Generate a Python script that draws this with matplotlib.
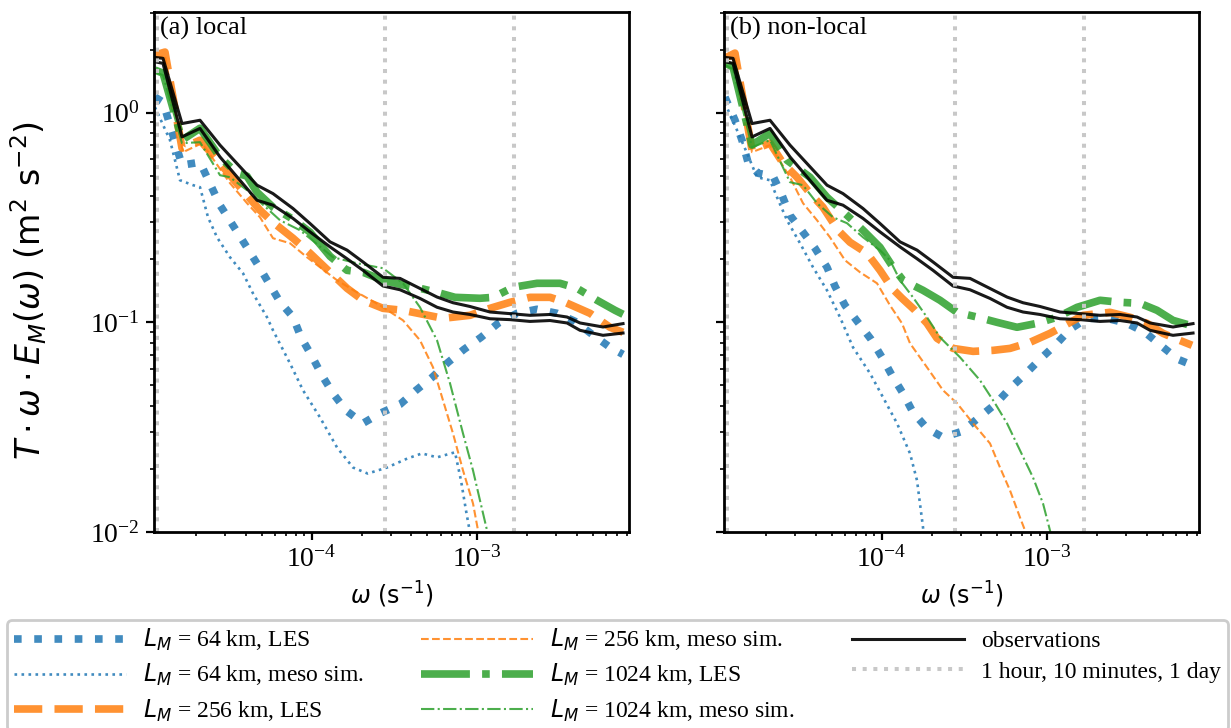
import matplotlib
matplotlib.use('Agg')
import matplotlib.pyplot as plt

plt.rcParams['font.family'] = 'serif'
plt.rcParams['font.serif'] = ['Liberation Serif', 'DejaVu Serif']
plt.rcParams['mathtext.fontset'] = 'dejavusans'

# ---------------- data (frequency in s^-1, value in m^2 s^-2) ----------------
obs_f = [1.131e-5, 1.265e-5, 1.647e-5, 2.116e-5, 2.794e-5, 4.673e-5, 5.838e-5, 7.711e-5,
         9.766e-5, 1.290e-4, 1.634e-4, 2.041e-4, 2.696e-4, 3.413e-4, 4.508e-4, 5.710e-4,
         7.132e-4, 9.031e-4, 1.193e-3, 1.576e-3, 2.081e-3, 2.748e-3, 3.480e-3, 4.170e-3,
         5.741e-3, 7.584e-3]
obs_upper = [1.835, 1.815, 0.887, 0.920, 0.700, 0.451, 0.411, 0.349, 0.296, 0.242, 0.221,
             0.194, 0.164, 0.162, 0.145, 0.132, 0.124, 0.119, 0.112, 0.110, 0.108, 0.109,
             0.106, 0.0993, 0.0950, 0.0986]
obs_lower = [1.748, 1.718, 0.766, 0.841, 0.615, 0.382, 0.362, 0.313, 0.270, 0.229, 0.201,
             0.177, 0.149, 0.143, 0.130, 0.118, 0.112, 0.109, 0.104, 0.103, 0.101, 0.102,
             0.0993, 0.0916, 0.0867, 0.0889]

# panel (a) local
a_les64_f = [1.131e-5, 1.265e-5, 1.647e-5, 2.116e-5, 2.794e-5, 3.690e-5, 4.872e-5, 6.435e-5,
             7.711e-5, 8.620e-5, 1.004e-4, 1.154e-4, 1.345e-4, 1.611e-4, 2.041e-4, 2.585e-4,
             3.413e-4, 4.265e-4, 5.327e-4, 6.653e-4, 8.311e-4, 1.053e-3, 1.334e-3, 1.737e-3,
             2.294e-3, 3.029e-3, 3.890e-3, 4.927e-3, 6.328e-3, 7.584e-3]
a_les64_v = [1.186, 1.122, 0.562, 0.580, 0.362, 0.257, 0.181, 0.125, 0.106, 0.0848, 0.0688,
             0.0558, 0.0458, 0.0380, 0.0330, 0.0368, 0.0406, 0.0474, 0.0546, 0.0644, 0.0743,
             0.0848, 0.0989, 0.1104, 0.1154, 0.1104, 0.1011, 0.0877, 0.0760, 0.0703]
a_meso64_f = [1.131e-5, 1.394e-5, 1.602e-5, 1.920e-5, 2.116e-5, 2.365e-5, 2.680e-5, 3.211e-5,
              3.847e-5, 4.418e-5, 5.371e-5, 5.838e-5, 7.396e-5, 8.862e-5, 1.122e-4, 1.422e-4,
              1.776e-4, 2.179e-4, 2.850e-4, 3.773e-4, 4.634e-4, 5.710e-4, 7.333e-4, 7.972e-4,
              8.543e-4, 9.031e-4, 9.552e-4]
a_meso64_v = [1.062, 0.739, 0.476, 0.451, 0.441, 0.317, 0.2544, 0.2043, 0.1714, 0.1375, 0.1057,
              0.0916, 0.0637, 0.0474, 0.0352, 0.0253, 0.0203, 0.0190, 0.0203, 0.0224, 0.0237,
              0.0227, 0.0240, 0.0176, 0.01267, 0.00994, 0.00731]
a_les256_f = [1.131e-5, 1.300e-5, 1.647e-5, 2.116e-5, 2.794e-5, 3.690e-5, 4.872e-5, 5.838e-5,
              7.711e-5, 9.766e-5, 1.290e-4, 1.634e-4, 2.041e-4, 2.696e-4, 3.559e-4, 4.700e-4,
              6.208e-4, 9.031e-4, 1.193e-3, 1.576e-3, 2.081e-3, 2.748e-3, 3.385e-3, 4.792e-3,
              6.328e-3, 7.584e-3]
a_les256_v = [1.882, 1.945, 0.677, 0.739, 0.574, 0.441, 0.3425, 0.300, 0.2518, 0.2135, 0.1733,
              0.1453, 0.1274, 0.1166, 0.1141, 0.1092, 0.1045, 0.1080, 0.1166, 0.1246, 0.1316,
              0.1316, 0.1246, 0.1104, 0.0947, 0.0896]
a_meso256_f = [1.131e-5, 1.300e-5, 1.670e-5, 2.176e-5, 3.211e-5, 4.067e-5, 4.872e-5, 5.838e-5,
               7.396e-5, 9.368e-5, 1.422e-4, 1.877e-4, 2.585e-4, 3.559e-4, 4.508e-4, 5.402e-4,
               6.208e-4, 7.132e-4, 8.196e-4, 9.419e-4, 1.010e-3, 1.068e-3]
a_meso256_v = [1.820, 1.861, 0.648, 0.715, 0.461, 0.370, 0.317, 0.2518, 0.2383, 0.2043, 0.1587,
               0.139, 0.1205, 0.1022, 0.0821, 0.0610, 0.0424, 0.0295, 0.01966, 0.01368,
               0.01017, 0.00731]
a_les1024_f = [1.131e-5, 1.265e-5, 1.647e-5, 2.116e-5, 2.794e-5, 3.539e-5, 4.067e-5, 4.673e-5,
               5.838e-5, 7.711e-5, 9.766e-5, 1.290e-4, 1.634e-4, 2.041e-4, 2.696e-4, 3.413e-4,
               4.508e-4, 5.710e-4, 7.333e-4, 1.038e-3, 1.244e-3, 1.643e-3, 2.294e-3, 3.158e-3,
               3.999e-3, 5.282e-3, 6.784e-3, 7.584e-3]
a_les1024_v = [1.596, 1.543, 0.739, 0.843, 0.613, 0.514, 0.498, 0.4174, 0.354, 0.310, 0.269,
               0.2065, 0.177, 0.1733, 0.1587, 0.1518, 0.1453, 0.139, 0.1316, 0.1302, 0.1316,
               0.1469, 0.1535, 0.1535, 0.1453, 0.1274, 0.1141, 0.1092]
a_meso1024_f = [1.131e-5, 1.265e-5, 1.647e-5, 2.116e-5, 2.794e-5, 3.211e-5, 4.067e-5, 6.435e-5,
                8.500e-5, 1.345e-4, 1.877e-4, 2.696e-4, 3.559e-4, 4.508e-4, 5.710e-4, 6.840e-4,
                8.196e-4, 9.419e-4, 1.038e-3, 1.145e-3, 1.227e-3]
a_meso1024_v = [1.561, 1.510, 0.715, 0.723, 0.503, 0.492, 0.4267, 0.3068, 0.2748, 0.2043, 0.1912,
                0.1811, 0.1535, 0.1179, 0.0821, 0.0512, 0.0295, 0.01966, 0.01414, 0.01017,
                0.00731]

# panel (b) non-local
b_les64_f = [1.131e-5, 1.300e-5, 1.433e-5, 1.558e-5, 1.791e-5, 2.206e-5, 2.500e-5, 2.794e-5,
             3.347e-5, 3.956e-5, 4.673e-5, 5.224e-5, 6.003e-5, 7.193e-5, 8.620e-5, 1.004e-4,
             1.154e-4, 1.345e-4, 1.545e-4, 1.877e-4, 2.346e-4, 3.054e-4, 3.869e-4, 4.832e-4,
             5.954e-4, 7.333e-4, 9.031e-4, 1.129e-3, 1.371e-3, 1.737e-3, 2.294e-3, 3.029e-3,
             3.890e-3, 4.927e-3, 6.154e-3, 7.584e-3]
b_les64_v = [1.186, 0.921, 0.739, 0.580, 0.514, 0.498, 0.404, 0.324, 0.269, 0.2255, 0.1831,
             0.1485, 0.1205, 0.100, 0.0830, 0.0681, 0.0558, 0.0458, 0.0372, 0.0312, 0.02826,
             0.0302, 0.0352, 0.0406, 0.0484, 0.0565, 0.0666, 0.0785, 0.0926, 0.1045, 0.1045,
             0.0989, 0.0896, 0.0768, 0.0666, 0.0623]
b_meso64_f = [1.131e-5, 1.337e-5, 1.537e-5, 1.766e-5, 2.116e-5, 2.332e-5, 2.680e-5, 3.211e-5,
              3.847e-5, 4.673e-5, 5.600e-5, 6.709e-5, 8.500e-5, 1.018e-4, 1.237e-4, 1.482e-4,
              1.634e-4, 1.776e-4, 1.851e-4]
b_meso64_v = [1.110, 0.825, 0.641, 0.492, 0.476, 0.395, 0.3068, 0.2383, 0.1831, 0.1421, 0.1057,
              0.0760, 0.0571, 0.0439, 0.0330, 0.0237, 0.0176, 0.01051, 0.00731]
b_les256_f = [1.131e-5, 1.300e-5, 1.647e-5, 2.116e-5, 2.535e-5, 3.080e-5, 3.690e-5, 4.418e-5,
              5.446e-5, 6.435e-5, 8.154e-5, 9.766e-5, 1.154e-4, 1.326e-4, 1.589e-4, 1.877e-4,
              2.158e-4, 2.696e-4, 3.559e-4, 4.700e-4, 5.954e-4, 7.862e-4, 1.038e-3, 1.244e-3,
              1.643e-3, 2.391e-3, 3.158e-3, 3.999e-3, 4.996e-3, 6.069e-3, 7.479e-3]
b_les256_v = [1.820, 1.923, 0.662, 0.715, 0.574, 0.492, 0.4129, 0.354, 0.2748, 0.2409, 0.2135,
              0.177, 0.1453, 0.1302, 0.1141, 0.0989, 0.0839, 0.0751, 0.0727, 0.0735, 0.0751,
              0.0803, 0.0886, 0.0957, 0.1080, 0.1116, 0.1057, 0.0989, 0.0886, 0.0830, 0.0777]
b_meso256_f = [1.131e-5, 1.300e-5, 1.647e-5, 2.116e-5, 2.794e-5, 3.347e-5, 4.067e-5, 4.872e-5,
               6.003e-5, 7.396e-5, 9.368e-5, 1.122e-4, 1.326e-4, 1.482e-4, 1.877e-4, 2.346e-4,
               2.850e-4, 3.559e-4, 4.508e-4, 5.181e-4, 5.954e-4, 6.840e-4, 7.333e-4, 7.862e-4]
b_meso256_v = [1.781, 1.840, 0.648, 0.700, 0.492, 0.370, 0.3068, 0.2544, 0.1977, 0.1733, 0.1535,
               0.1205, 0.0989, 0.0794, 0.0610, 0.0474, 0.0411, 0.0330, 0.02645, 0.0203,
               0.01578, 0.01173, 0.01017, 0.00772]
b_les1024_f = [1.131e-5, 1.265e-5, 1.647e-5, 2.116e-5, 2.680e-5, 3.690e-5, 4.673e-5, 6.172e-5,
               7.711e-5, 9.766e-5, 1.170e-4, 1.345e-4, 1.776e-4, 2.249e-4, 2.850e-4, 3.815e-4,
               4.969e-4, 6.561e-4, 8.663e-4, 1.145e-3, 1.512e-3, 2.081e-3, 2.748e-3, 3.629e-3,
               4.597e-3, 5.741e-3, 7.273e-3]
b_les1024_v = [1.723, 1.649, 0.700, 0.798, 0.593, 0.492, 0.395, 0.324, 0.2748, 0.228, 0.1831,
               0.1587, 0.1421, 0.1274, 0.1116, 0.1057, 0.100, 0.0947, 0.0989, 0.1057, 0.1179,
               0.1274, 0.1246, 0.1232, 0.1141, 0.1022, 0.0968]
b_meso1024_f = [1.131e-5, 1.265e-5, 1.647e-5, 2.116e-5, 2.794e-5, 3.347e-5, 4.067e-5, 5.080e-5,
                6.172e-5, 7.711e-5, 9.766e-5, 1.122e-4, 1.290e-4, 1.545e-4, 1.877e-4, 2.249e-4,
                2.971e-4, 3.923e-4, 4.832e-4, 5.710e-4, 6.840e-4, 8.196e-4, 9.419e-4, 1.038e-3,
                1.113e-3]
b_meso1024_v = [1.686, 1.613, 0.684, 0.739, 0.466, 0.451, 0.370, 0.317, 0.297, 0.2544, 0.2207,
                0.1977, 0.1587, 0.1316, 0.1057, 0.0848, 0.0681, 0.0529, 0.0411, 0.0330, 0.0245,
                0.0182, 0.01368, 0.01017, 0.00772]

period_f = [1.157e-5, 2.778e-4, 1.667e-3]   # 1 day, 1 hour, 10 minutes

labels = [r'$L_M$ = 64 km, LES', r'$L_M$ = 64 km, meso sim.',
          r'$L_M$ = 256 km, LES', r'$L_M$ = 256 km, meso sim.',
          r'$L_M$ = 1024 km, LES', r'$L_M$ = 1024 km, meso sim.',
          'observations', '1 hour, 10 minutes, 1 day']
panel_titles = ['(a) local', '(b) non-local']

# ---------------- styles ----------------
thick = 5.5
styles = [dict(color='tab:blue', ls=':', lw=thick, alpha=0.85),
          dict(color='tab:blue', ls=':', lw=1.9, alpha=0.85),
          dict(color='tab:orange', ls='--', lw=thick, alpha=0.85),
          dict(color='tab:orange', ls='--', lw=1.5, alpha=0.85),
          dict(color='tab:green', ls='-.', lw=thick, alpha=0.85),
          dict(color='tab:green', ls='-.', lw=1.5, alpha=0.85)]

panels = [
    [(a_les64_f, a_les64_v), (a_meso64_f, a_meso64_v), (a_les256_f, a_les256_v),
     (a_meso256_f, a_meso256_v), (a_les1024_f, a_les1024_v), (a_meso1024_f, a_meso1024_v)],
    [(b_les64_f, b_les64_v), (b_meso64_f, b_meso64_v), (b_les256_f, b_les256_v),
     (b_meso256_f, b_meso256_v), (b_les1024_f, b_les1024_v), (b_meso1024_f, b_meso1024_v)],
]

W, H = 1231, 728
fig = plt.figure(figsize=(W / 100, H / 100), dpi=100)
ax_a = fig.add_axes([154 / W, 1 - 532 / H, 475 / W, 520 / H])
ax_b = fig.add_axes([724 / W, 1 - 532 / H, 475 / W, 520 / H], sharey=ax_a)
axes = [ax_a, ax_b]

handles = []
for k, ax in enumerate(axes):
    for (f, v), st, lab in zip(panels[k], styles, labels[:6]):
        ln, = ax.plot(f, v, label=lab, **st)
        if k == 0:
            handles.append(ln)
    l1, = ax.plot(obs_f, obs_upper, color='black', lw=2.2, alpha=0.9)
    ax.plot(obs_f, obs_lower, color='black', lw=2.2, alpha=0.9)
    for pf in period_f:
        vl = ax.axvline(pf, color='#c8c8c8', ls=':', lw=2.9)
    if k == 0:
        handles.append(l1)
        handles.append(vl)
    ax.set_xscale('log')
    ax.set_yscale('log')
    ax.set_xlim(1.116e-5, 8.24e-3)
    ax.set_ylim(1e-2, 3.02)
    for sp in ax.spines.values():
        sp.set_linewidth(2.0)
    ax.tick_params(which='major', length=6, width=1.6, labelsize=20, pad=4)
    ax.tick_params(which='minor', length=3.2, width=1.2)
    ax.set_xlabel(r'$\omega\ (\mathrm{s}^{-1})$', fontsize=17, labelpad=5)
    ax.text(0.012, 0.99, panel_titles[k], transform=ax.transAxes, ha='left', va='top',
            fontsize=19)

ylab = ax_a.set_ylabel(r'$T \cdot \omega \cdot E_M(\omega)\ (\mathrm{m}^2\ \mathrm{s}^{-2})$',
                       fontsize=19)
ax_a.yaxis.set_label_coords(-0.222, 0.465)
ax_b.tick_params(labelleft=False)

# fit the y-label to the span it covers in the reference (about 340 px tall)
fig.canvas.draw()
bb = ylab.get_window_extent()
ylab.set_fontsize(19 * 340.0 / bb.height)

leg = fig.legend(handles, labels, loc='upper left',
                 bbox_to_anchor=(7 / W, 1 - 620 / H, 1221 / W, 0),
                 mode='expand', ncol=3, fontsize=17, handlelength=4.75, handletextpad=0.7,
                 borderaxespad=0, labelspacing=0.38, borderpad=0.3, fancybox=True,
                 framealpha=1, edgecolor='#cccccc')
leg.get_frame().set_linewidth(2.0)

fig.savefig('out.png', dpi=100)
